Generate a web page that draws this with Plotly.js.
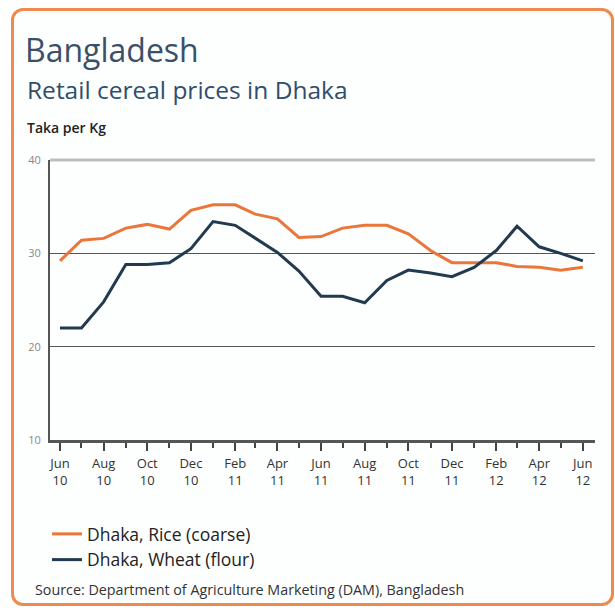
<!DOCTYPE html>
<html>
<head>
<meta charset="utf-8">
<script src="https://cdn.plot.ly/plotly-3.0.1.min.js"></script>
<style>
  html, body { margin:0; padding:0; background:#ffffff; }
  #card { position:absolute; left:11px; top:8px; width:597px; height:592px;
          border:3px solid #EE8A4E; border-radius:12px; background:#fdfefe; }
  #chart { position:absolute; left:0; top:0; width:615px; height:610px; }
</style>
</head>
<body>
<div id="card"></div>
<div id="chart"></div>
<script>
// ---- data ----
const months = [
  '2010-06-01','2010-07-01','2010-08-01','2010-09-01','2010-10-01','2010-11-01',
  '2010-12-01','2011-01-01','2011-02-01','2011-03-01','2011-04-01','2011-05-01',
  '2011-06-01','2011-07-01','2011-08-01','2011-09-01','2011-10-01','2011-11-01',
  '2011-12-01','2012-01-01','2012-02-01','2012-03-01','2012-04-01','2012-05-01',
  '2012-06-01'
];
const riceCoarse = [29.2, 31.4, 31.6, 32.7, 33.1, 32.6, 34.6, 35.2, 35.2, 34.2, 33.7, 31.7,
                    31.8, 32.7, 33.0, 33.0, 32.1, 30.3, 29.0, 29.0, 29.0, 28.6, 28.5, 28.2, 28.5];
const wheatFlour = [22.0, 22.0, 24.8, 28.8, 28.8, 29.0, 30.5, 33.4, 33.0, 31.6, 30.1, 28.1,
                    25.4, 25.4, 24.7, 27.1, 28.2, 27.9, 27.5, 28.5, 30.3, 32.9, 30.7, 30.0, 29.2];
const seriesNames = ['Dhaka, Rice (coarse)', 'Dhaka, Wheat (flour)'];
const yTicks = [10, 20, 30, 40];

const FONT = 'Open Sans, Noto Sans, sans-serif';
const ORANGE = '#EA763A';
const NAVY = '#213A4F';

// plot-area pixel helpers for placing text (paper coordinates)
const L = 50, R = 20, T = 160, B = 170, W = 615, H = 610;
const pw = W - L - R, ph = H - T - B;
const px = x => (x - L) / pw;
const py = y => (H - B - y) / ph;

const traces = [
  { x: months, y: riceCoarse, name: seriesNames[0], type: 'scatter', mode: 'lines',
    line: { color: ORANGE, width: 3 } },
  { x: months, y: wheatFlour, name: seriesNames[1], type: 'scatter', mode: 'lines',
    line: { color: NAVY, width: 3 } }
];

const layout = {
  width: W, height: H,
  margin: { l: L, r: R, t: T, b: B },
  paper_bgcolor: 'rgba(0,0,0,0)',
  plot_bgcolor: 'rgba(0,0,0,0)',
  font: { family: FONT, color: '#333' },
  title: {
    text: 'Bangladesh',
    font: { family: FONT, size: 32, color: '#3A5068' },
    xref: 'container', yref: 'container',
    x: 25 / W, xanchor: 'left',
    y: 1 - 51 / H, yanchor: 'middle'
  },
  showlegend: true,
  legend: {
    x: px(47), xanchor: 'left', y: py(516), yanchor: 'top',
    font: { family: FONT, size: 17.5, color: '#222' },
    bgcolor: 'rgba(0,0,0,0)', traceorder: 'normal'
  },
  xaxis: {
    type: 'date',
    range: ['2010-05-18', '2012-06-18'],
    tickformat: '%b<br>%y',
    dtick: 'M2', tick0: '2010-06-01',
    ticks: 'outside', ticklen: 8, tickwidth: 2, tickcolor: '#444',
    minor: { dtick: 'M1', tick0: '2010-06-01', ticks: 'outside', ticklen: 5, tickwidth: 2, tickcolor: '#444', showgrid: false },
    showline: true, linecolor: '#555', linewidth: 2.5,
    showgrid: false, zeroline: false,
    tickfont: { family: FONT, size: 13, color: '#333' },
    ticklabelstandoff: 2
  },
  yaxis: {
    range: [10, 40],
    tickmode: 'array', tickvals: yTicks,
    ticks: '', showline: true, linecolor: '#555', linewidth: 2,
    showgrid: true, gridcolor: '#555', gridwidth: 1,
    zeroline: false,
    tickfont: { family: FONT, size: 11, color: '#888' },
    ticklabelstandoff: 5
  },
  shapes: [
    { type: 'line', xref: 'paper', yref: 'paper', x0: 0, x1: 1, y0: 1, y1: 1,
      line: { color: '#BDBDBD', width: 3 } }
  ],
  annotations: [
    { text: 'Retail cereal prices in Dhaka', xref: 'paper', yref: 'paper',
      x: px(25), y: py(89), xanchor: 'left', yanchor: 'middle', showarrow: false,
      font: { family: FONT, size: 24.5, color: '#2F4E6C' } },
    { text: 'Taka per Kg', xref: 'paper', yref: 'paper',
      x: px(25), y: py(127), xanchor: 'left', yanchor: 'middle', showarrow: false,
      font: { family: FONT, size: 14, color: '#222', weight: 600 } },
    { text: 'Source: Department of Agriculture Marketing (DAM), Bangladesh', xref: 'paper', yref: 'paper',
      x: px(33), y: py(589), xanchor: 'left', yanchor: 'middle', showarrow: false,
      font: { family: FONT, size: 14.3, color: '#333' } }
  ]
};

Plotly.newPlot('chart', traces, layout, { displayModeBar: false, staticPlot: true });
</script>
</body>
</html>
